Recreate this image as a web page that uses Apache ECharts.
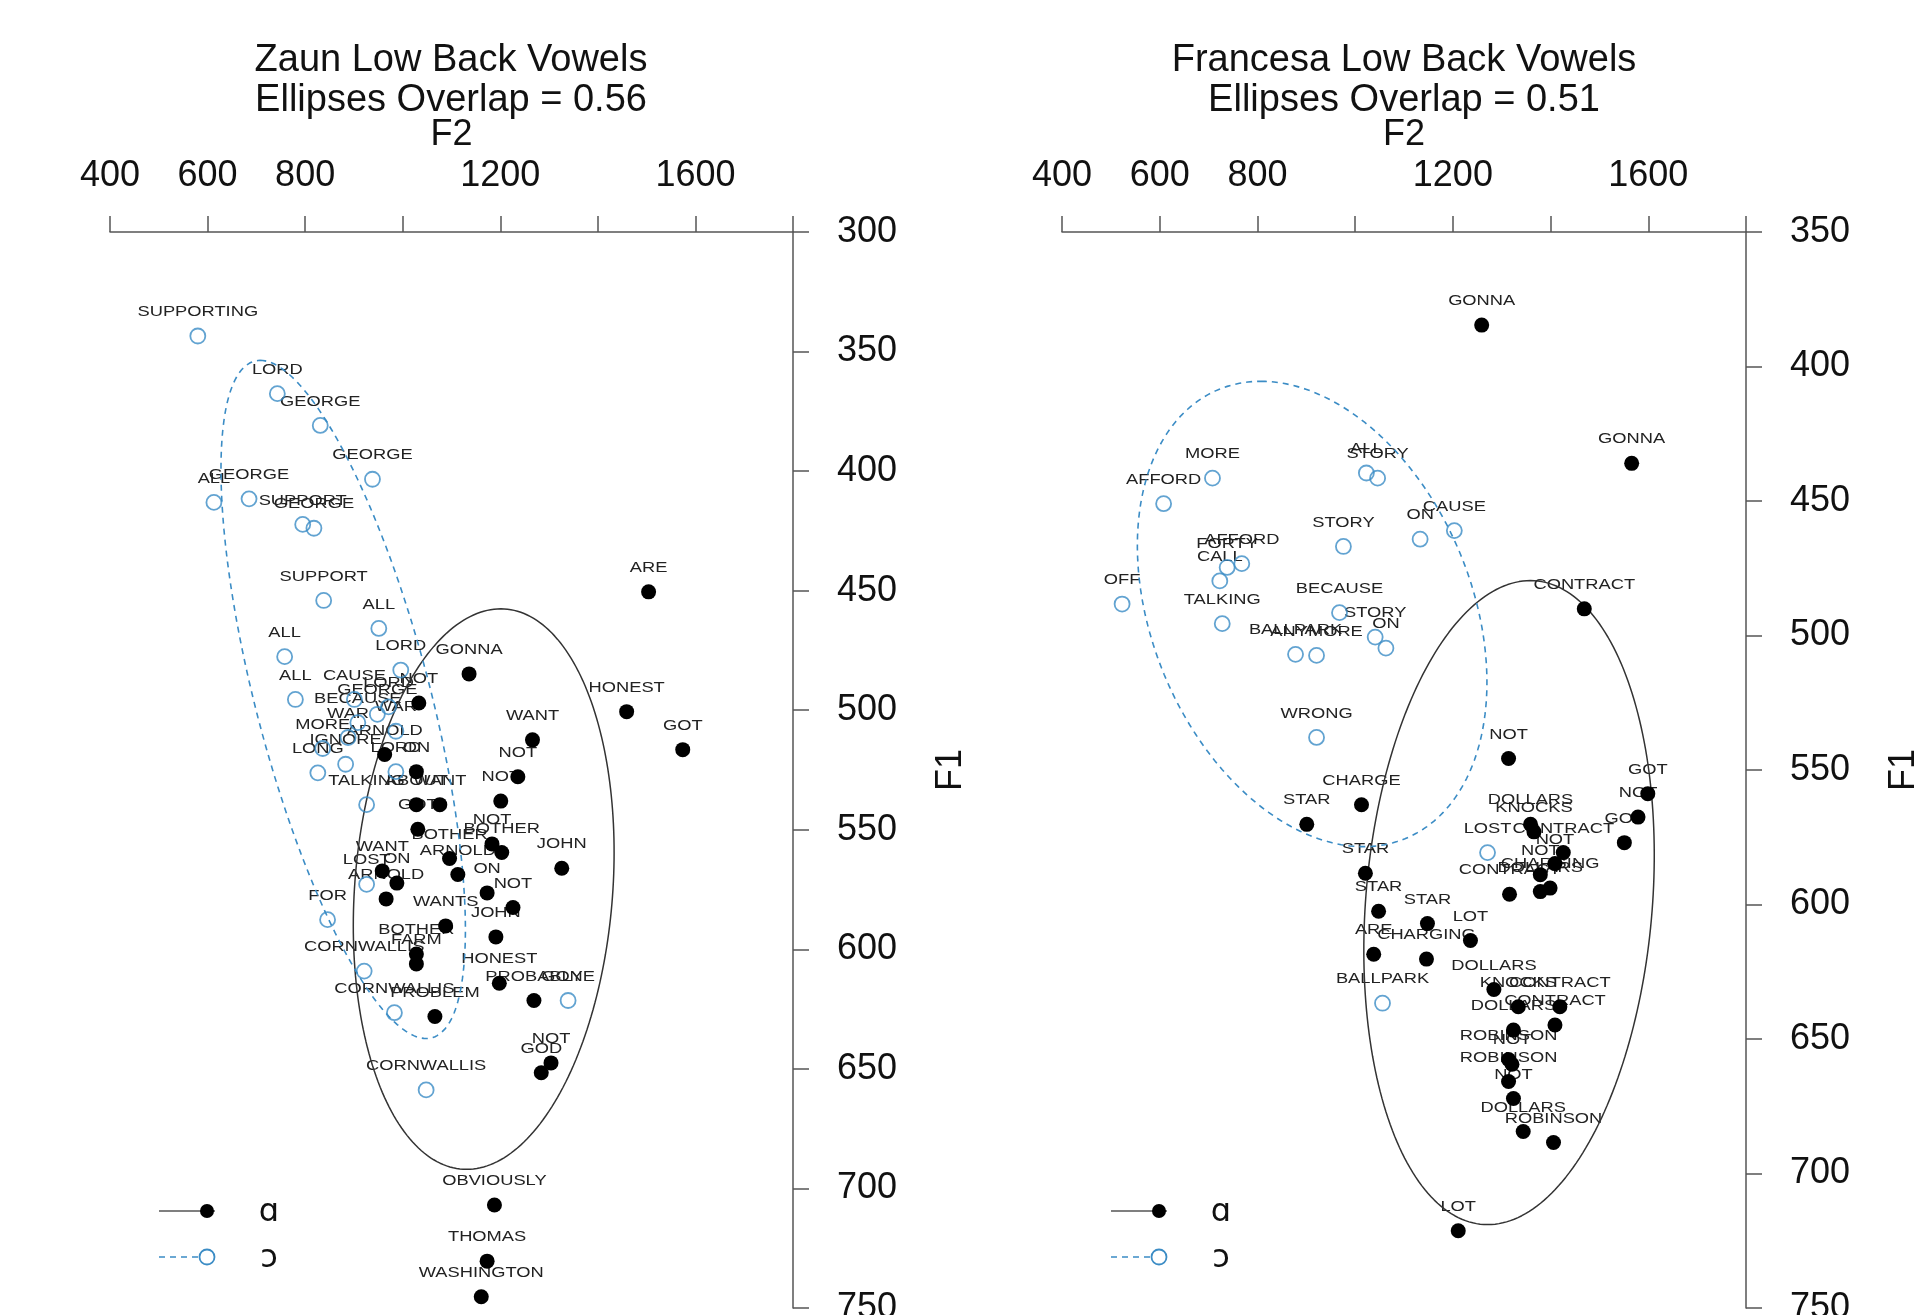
<!DOCTYPE html>
<html><head><meta charset="utf-8">
<script src="https://cdn.jsdelivr.net/npm/echarts@6/dist/echarts.min.js"></script>
<style>html,body{margin:0;padding:0;background:#fff}#c{width:1918px;height:1315px}</style>
</head><body><div id="c"></div><script>
// ---------- Zaun ----------
const zaunOpenWords = ['SUPPORTING','LORD','GEORGE','GEORGE','ALL','GEORGE','SUPPORT','GEORGE','SUPPORT','ALL','ALL','LORD','ALL','CAUSE','LORD','GEORGE','BECAUSE','WAR','WAR','MORE','IGNORE','LONG','LORD','TALKING','LOST','FOR','CORNWALLIS','GONE','CORNWALLIS','CORNWALLIS'];
const zaunOpenF2 = [580,743,831,938,613,685,795,818,838,951,758,996,780,901,971,948,908,986,888,836,883,826,986,926,926,846,921,1339,983,1048];
const zaunOpenF1 = [343.5,367.6,380.9,403.4,413.1,411.6,422.3,423.9,454.1,465.8,477.6,483.2,495.5,495.5,498.6,501.7,505.2,508.8,511.4,516.0,522.6,526.2,525.7,539.5,572.8,587.6,609.1,621.4,626.5,658.8];

const zaunLowWords = ['GONNA','NOT','ARE','HONEST','GOT','WANT','NOT','NOT','ARNOLD','ON','ABOUT','WANT','GOT','NOT','BOTHER','BOTHER','JOHN','WANT','ARNOLD','ON','ON','ARNOLD','NOT','WANTS','JOHN','BOTHER','FARM','HONEST','PROBABLY','PROBLEM','NOT','GOD','OBVIOUSLY','THOMAS','WASHINGTON'];
const zaunLowF2 = [1136,1033,1504,1459,1574,1266,1236,1201,963,1028,1028,1076,1031,1183,1203,1096,1326,958,1113,988,1173,966,1226,1088,1191,1028,1028,1198,1269,1066,1304,1284,1188,1173,1161];
const zaunLowF1 = [484.8,497.0,450.5,500.6,516.5,512.4,527.8,538.0,518.5,525.7,539.5,539.5,549.8,555.9,559.5,562.0,566.1,567.2,568.7,572.3,576.4,578.9,582.5,590.2,594.8,602.0,606.1,614.2,621.4,628.1,647.5,651.6,706.9,730.4,745.3];

// ---------- Francesa ----------
const franOpenWords = ['MORE','AFFORD','ALL','STORY','CAUSE','ON','STORY','AFFORD','FORTY','CALL','OFF','TALKING','BECAUSE','STORY','ON','BALLPARK','ANYMORE','WRONG','LOST','BALLPARK'];
const franOpenF2 = [708,608,1023,1046,1203,1133,976,768,738,723,523,728,968,1041,1063,878,921,921,1271,1056];
const franOpenF1 = [441.5,451.0,439.6,441.5,461.0,464.2,466.9,473.3,474.7,479.7,488.3,495.6,491.5,500.6,504.7,507.0,507.4,537.9,580.7,636.7];

const franLowWords = ['GONNA','GONNA','CONTRACT','NOT','CHARGE','STAR','GOT','NOT','GOT','DOLLARS','KNOCKS','CONTRACT','NOT','NOT','STAR','CHARGING','DOLLARS','CONTRACT','STAR','STAR','LOT','ARE','CHARGING','DOLLARS','KNOCKS','CONTRACT','CONTRACT','DOLLARS','ROBINSON','NOT','ROBINSON','NOT','DOLLARS','ROBINSON','LOT'];
const franLowF2 = [1259,1566,1469,1314,1013,901,1599,1579,1551,1359,1366,1426,1409,1379,1021,1399,1379,1316,1048,1148,1236,1038,1146,1284,1334,1419,1409,1324,1314,1321,1314,1324,1344,1406,1211];
const franLowF1 = [384.6,436.0,490.1,545.7,562.9,570.2,558.8,567.5,577.0,570.2,573.0,580.7,584.8,588.9,588.4,593.9,595.2,596.2,602.5,607.1,613.4,618.5,620.3,631.6,638.0,638.0,644.8,646.7,657.6,659.4,665.8,672.1,684.4,688.5,721.3];

// ellipse parameters (data units): centre, conjugate semi-diameters
const zaunLowEllipse  = {c:[1166,574.8], u:[35,-117.2],  v:[265,0]};
const zaunOpenEllipse = {c:[878,495.5],  u:[-170,-141.8], v:[184,0]};
const franOpenEllipse = {c:[912,492.0], u:[-105,-86.5], v:[342,0]};
const franLowEllipse  = {c:[1315,599.3], u:[43.8,-119.7], v:[294,0]};

// axes
const f2Ticks = [400,600,800,1200,1600];
const titlesLeft = ['Zaun Low Back Vowels','Ellipses Overlap = 0.56'];
const titlesRight = ['Francesa Low Back Vowels','Ellipses Overlap = 0.51'];
const vowelLow = 'ɑ', vowelOpen = 'ɔ';

const FONT = '"Liberation Sans", Arial, Helvetica, sans-serif';
const BLUE = '#3b8cc5';
const LABEL_DY = 24, LABEL_SX = 1.22;

function pairs(xs, ys){ return xs.map((x,i)=>[x, ys[i]]); }
function ellipse(e, n){ const pts=[]; for(let k=0;k<=n;k++){ const t=2*Math.PI*k/n; pts.push([e.c[0]+e.u[0]*Math.cos(t)+e.v[0]*Math.sin(t), e.c[1]+e.u[1]*Math.cos(t)+e.v[1]*Math.sin(t)]); } return pts; }
function labelSeries(idx, words, xs, ys){
  return { type:'custom', xAxisIndex:idx, yAxisIndex:idx, coordinateSystem:'cartesian2d', z:1, silent:true,
    data: pairs(xs,ys),
    renderItem:(params, api)=>{ const p=api.coord([api.value(0), api.value(1)]);
      return {type:'text', x:p[0], y:p[1]-LABEL_DY, scaleX:LABEL_SX,
        style:{text: words[params.dataIndex], x:0, y:0, textAlign:'center', textVerticalAlign:'middle', align:'center', verticalAlign:'middle', font:'15px '+FONT, fill:'#222'}}; } };
}
function lowPts(idx, xs, ys){ return {type:'scatter', xAxisIndex:idx, yAxisIndex:idx, z:4, symbol:'circle', symbolSize:15, itemStyle:{color:'#000', opacity:1}, data:pairs(xs,ys)}; }
function openPts(idx, xs, ys){ return {type:'scatter', xAxisIndex:idx, yAxisIndex:idx, z:3, symbol:'circle', symbolSize:15, itemStyle:{color:'rgba(0,0,0,0)', borderColor:BLUE, borderWidth:1.8}, data:pairs(xs,ys)}; }
function ellLine(idx, e, dashed){ return {type:'line', xAxisIndex:idx, yAxisIndex:idx, z:2, showSymbol:false, symbol:'none', smooth:false, silent:true,
  lineStyle: dashed ? {color:BLUE, width:1.6, type:[6,5]} : {color:'#333', width:1.5}, data: ellipse(e, 240)}; }

function xAx(idx){ return { gridIndex:idx, type:'value', position:'top', min:400, max:1800, interval:200,
  name:'F2', nameLocation:'middle', nameGap:77, nameTextStyle:{fontSize:36, color:'#111', fontFamily:FONT},
  axisLine:{show:true, onZero:false, lineStyle:{color:'#555', width:1.5}},
  axisTick:{show:true, inside:false, length:16, lineStyle:{color:'#555', width:1.5}},
  axisLabel:{margin:38, fontSize:36, color:'#111', fontFamily:FONT, showMaxLabel:true, showMinLabel:true, formatter:v=>f2Ticks.includes(v)?String(v):''},
  splitLine:{show:false} }; }
function yAx(idx, min){ return { gridIndex:idx, type:'value', position:'right', inverse:true, min:min, max:750, interval:50,
  name:'F1', nameLocation:'middle', nameGap:140, nameRotate:90, nameTextStyle:{fontSize:36, color:'#111', fontFamily:FONT},
  axisLine:{show:true, onZero:false, lineStyle:{color:'#555', width:1.5}},
  axisTick:{show:true, inside:false, length:16, lineStyle:{color:'#555', width:1.5}},
  axisLabel:{margin:44, fontSize:36, color:'#111', fontFamily:FONT, showMaxLabel:true, showMinLabel:true},
  splitLine:{show:false} }; }

function titleText(lines, cx){ return lines.map((t,i)=>({type:'text', x:cx, y:61+i*40, silent:true,
  style:{text:t, textAlign:'center', textVerticalAlign:'middle', align:'center', verticalAlign:'middle', font:'38px '+FONT, fill:'#111'}})); }
function legend(x0){ return [
  {type:'line', shape:{x1:x0, y1:1211, x2:x0+56, y2:1211}, style:{stroke:'#555', lineWidth:1.5}},
  {type:'circle', shape:{cx:x0+48, cy:1211, r:7}, style:{fill:'#000'}},
  {type:'text', x:x0+110, y:1213, style:{text:vowelLow, textAlign:'center', textVerticalAlign:'middle', align:'center', verticalAlign:'middle', font:'32px "DejaVu Sans"', fill:'#111'}},
  {type:'line', shape:{x1:x0, y1:1257, x2:x0+56, y2:1257}, style:{stroke:BLUE, lineWidth:1.6, lineDash:[6,5]}},
  {type:'circle', shape:{cx:x0+48, cy:1257, r:7.5}, style:{fill:'#fff', stroke:BLUE, lineWidth:1.8}},
  {type:'text', x:x0+110, y:1259, style:{text:vowelOpen, textAlign:'center', textVerticalAlign:'middle', align:'center', verticalAlign:'middle', font:'32px "DejaVu Sans"', fill:'#111'}}
]; }

const chart = echarts.init(document.getElementById('c'), null, {renderer:'canvas'});
chart.setOption({
  animation:false,
  backgroundColor:'#fff',
  grid:[
    {left:110, top:232, width:683, height:1076, containLabel:false, outerBoundsMode:'none'},
    {left:1062, top:232, width:684, height:1076, containLabel:false, outerBoundsMode:'none'}
  ],
  xAxis:[xAx(0), xAx(1)],
  yAxis:[yAx(0,300), yAx(1,350)],
  graphic: [].concat(titleText(titlesLeft, 451), titleText(titlesRight, 1404), legend(159), legend(1111)),
  series:[
    ellLine(0, zaunLowEllipse, false), ellLine(0, zaunOpenEllipse, true),
    labelSeries(0, zaunOpenWords, zaunOpenF2, zaunOpenF1), labelSeries(0, zaunLowWords, zaunLowF2, zaunLowF1),
    openPts(0, zaunOpenF2, zaunOpenF1), lowPts(0, zaunLowF2, zaunLowF1),
    ellLine(1, franLowEllipse, false), ellLine(1, franOpenEllipse, true),
    labelSeries(1, franOpenWords, franOpenF2, franOpenF1), labelSeries(1, franLowWords, franLowF2, franLowF1),
    openPts(1, franOpenF2, franOpenF1), lowPts(1, franLowF2, franLowF1)
  ]
});
</script></body></html>
